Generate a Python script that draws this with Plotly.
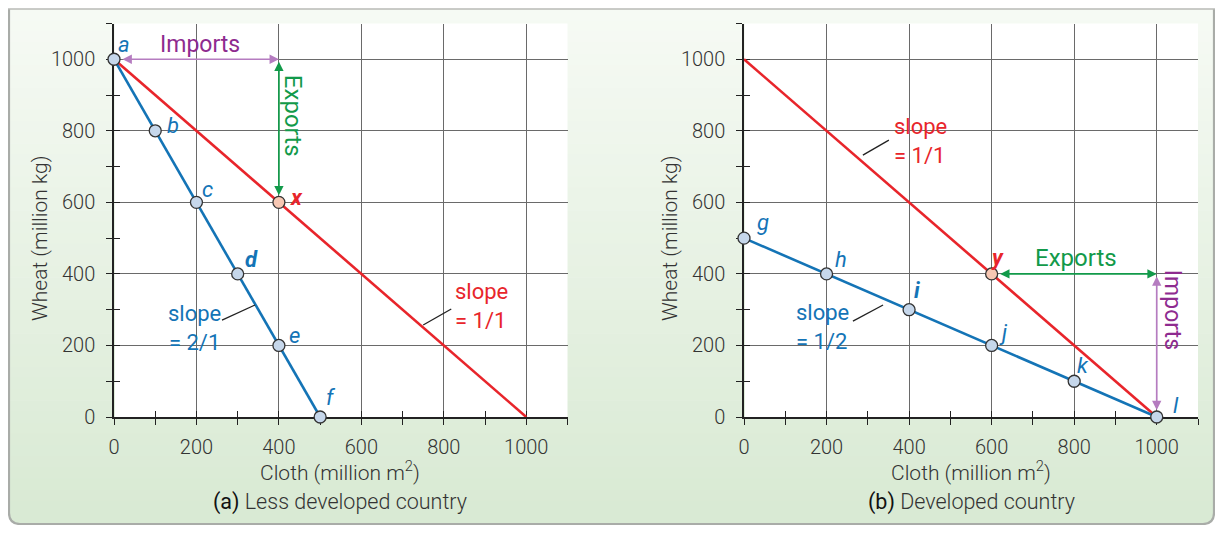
import plotly.graph_objects as go

# ---- data -------------------------------------------------------------
# (a) less developed country
cloth_a = [0, 100, 200, 300, 400, 500]
wheat_a = [1000, 800, 600, 400, 200, 0]
letters_a = ["a", "b", "c", "d", "e", "f"]
trade_cloth_a = [0, 1000]
trade_wheat_a = [1000, 0]
consume_a = (400, 600)          # point x

# (b) developed country
cloth_b = [0, 200, 400, 600, 800, 1000]
wheat_b = [500, 400, 300, 200, 100, 0]
letters_b = ["g", "h", "i", "j", "k", "l"]
trade_cloth_b = [0, 1000]
trade_wheat_b = [1000, 0]
consume_b = (600, 400)          # point y

BLUE = "#1474b6"
RED = "#e8252b"
GREEN = "#129a4a"
PURPLE_TXT = "#8e2b8f"
PURPLE_ARR = "#b57cc0"
GRID = "#6a6a6a"
TXT = "#333333"
FONT = "Roboto"

# page body has an 8px margin, so the figure is sized to fit inside the window
OX, OY = 8, 8
W, H = 1223 - 2 * OX, 533 - 2 * OY


def px(x):
    return (x - OX) / W


def py(y):
    return 1 - (y - OY) / H


fig = go.Figure()


def add_panel(xa, ya, cx, cy, tx, ty, pt):
    fig.add_trace(go.Scatter(x=tx, y=ty, mode="lines", line=dict(color=RED, width=2.6),
                             xaxis=xa, yaxis=ya, hoverinfo="skip", cliponaxis=False))
    fig.add_trace(go.Scatter(x=cx, y=cy, mode="lines", line=dict(color=BLUE, width=2.6),
                             xaxis=xa, yaxis=ya, hoverinfo="skip", cliponaxis=False))
    fig.add_trace(go.Scatter(x=cx, y=cy, mode="markers",
                             marker=dict(size=12, color="#c6d7eb", line=dict(color="#333", width=1.3)),
                             xaxis=xa, yaxis=ya, cliponaxis=False))
    fig.add_trace(go.Scatter(x=[pt[0]], y=[pt[1]], mode="markers",
                             marker=dict(size=12, color="#f7c7b3", line=dict(color="#333", width=1.3)),
                             xaxis=xa, yaxis=ya, cliponaxis=False))


add_panel("x3", "y3", cloth_a, wheat_a, trade_cloth_a, trade_wheat_a, consume_a)
add_panel("x4", "y4", cloth_b, wheat_b, trade_cloth_b, trade_wheat_b, consume_b)

dom_a = [px(114), px(567.5)]
dom_b = [px(744), px(1198)]
dom_y = [py(417), py(23.5)]

tickfont = dict(size=20, color=TXT, family=FONT, weight=300)
xax = dict(range=[0, 1100], showgrid=True, gridcolor=GRID, gridwidth=1, dtick=200, tick0=0,
           ticks="outside", ticklen=6, tickcolor="#222", showline=True, linecolor="#222",
           linewidth=1.5, tickfont=tickfont, ticklabelstandoff=5, automargin=False,
           layer="below traces",
           minor=dict(dtick=100, ticks="outside", ticklen=6, tickcolor="#222", showgrid=False),
           zeroline=False, fixedrange=True)
yax = dict(xax)
yax["ticklabelstandoff"] = 7

# second set of axes carrying the inward half of each tick
inner = dict(range=[0, 1100], showgrid=False, dtick=200, tick0=0, ticks="inside", ticklen=6,
             tickcolor="#222", showticklabels=False, showline=False, zeroline=False,
             automargin=False, layer="below traces", fixedrange=True,
             minor=dict(dtick=100, ticks="inside", ticklen=6, tickcolor="#222"))

fig.update_layout(
    xaxis=dict(xax, domain=dom_a, anchor="y"),
    yaxis=dict(yax, domain=dom_y, anchor="x"),
    xaxis2=dict(xax, domain=dom_b, anchor="y2"),
    yaxis2=dict(yax, domain=dom_y, anchor="x2"),
    xaxis3=dict(inner, overlaying="x", anchor="y3"),
    yaxis3=dict(inner, overlaying="y", anchor="x3"),
    xaxis4=dict(inner, overlaying="x2", anchor="y4"),
    yaxis4=dict(inner, overlaying="y2", anchor="x4"),
)

# ---- background: gradient panel with rounded frame ---------------------
shapes = []
top, bot, left, right = 9, 524, 9, 1214
c0 = (246, 250, 244)
c1 = (217, 234, 212)
n = 45
band = (bot - 12 - top) / n
for i in range(n):
    t = i / (n - 1)
    col = "rgb(%d,%d,%d)" % tuple(round(c0[k] + (c1[k] - c0[k]) * t) for k in range(3))
    y0 = top + i * band
    shapes.append(dict(type="rect", xref="paper", yref="paper", layer="below",
                       x0=px(left), x1=px(right), y0=py(y0), y1=py(y0 + band + 0.6),
                       fillcolor=col, line_width=0))
r = 11
path = "M {} {} L {} {} Q {} {} {} {} L {} {} Q {} {} {} {} L {} {} Z".format(
    px(left), py(bot - 12.5), px(left), py(bot - r), px(left), py(bot), px(left + r), py(bot),
    px(right - r), py(bot), px(right), py(bot), px(right), py(bot - r), px(right), py(bot - 12.5))
shapes.append(dict(type="path", xref="paper", yref="paper", layer="below", path=path,
                   fillcolor="rgb(217,234,212)", line_width=0))
# white plot areas
for x0, x1 in [(115, 567.5), (745, 1198)]:
    shapes.append(dict(type="rect", xref="paper", yref="paper", layer="below",
                       x0=px(x0), x1=px(x1), y0=py(417), y1=py(23.5),
                       fillcolor="white", line_width=0))
# frame outline
frame = "M {} {} L {} {} Q {} {} {} {} L {} {} Q {} {} {} {} L {} {}".format(
    px(left), py(top), px(left), py(bot - r), px(left), py(bot), px(left + r), py(bot),
    px(right - r), py(bot), px(right), py(bot), px(right), py(bot - r), px(right), py(top))
shapes.append(dict(type="path", xref="paper", yref="paper", layer="below", path=frame,
                   line=dict(color="#a9aca8", width=2.2)))
shapes.append(dict(type="line", xref="paper", yref="paper", layer="below",
                   x0=0, x1=1, y0=py(9), y1=py(9), line=dict(color="#b8bab6", width=1.5)))

# slope pointer lines
for xr, yr, x0, y0, x1, y1 in [("x", "y", 262, 271, 342, 313), ("x", "y", 750, 257, 818, 302),
                               ("x2", "y2", 264, 268, 337, 313), ("x2", "y2", 288, 732, 351, 774)]:
    shapes.append(dict(type="line", xref=xr, yref=yr, x0=x0, y0=y0, x1=x1, y1=y1,
                       line=dict(color="#222", width=1.3)))

fig.update_layout(shapes=shapes)

# ---- annotations -------------------------------------------------------
ann = []
offs_a = [(10, 15), (18, 5), (11, 13), (14, 14), (16, 10), (11, 20)]
offs_b = [(19, 16), (14, 14), (8, 19), (12, 13), (9, 16), (19, 12)]
bold_a = {"d"}
bold_b = {"i"}


def letter_anns(xr, yr, cx, cy, letters, offs, bold):
    for x, y, s, (dx, dy) in zip(cx, cy, letters, offs):
        t = "<i>%s</i>" % s
        if s in bold:
            t = "<b><i>%s</i></b>" % s
        ann.append(dict(xref=xr, yref=yr, x=x, y=y, text=t, showarrow=False, xshift=dx, yshift=dy,
                        font=dict(size=22, color=BLUE, family=FONT)))


letter_anns("x", "y", cloth_a, wheat_a, letters_a, offs_a, bold_a)
letter_anns("x2", "y2", cloth_b, wheat_b, letters_b, offs_b, bold_b)
ann.append(dict(xref="x", yref="y", x=consume_a[0], y=consume_a[1], text="<b><i>x</i></b>",
                showarrow=False, xshift=18, yshift=5, font=dict(size=22, color=RED, family=FONT)))
ann.append(dict(xref="x2", yref="y2", x=consume_b[0], y=consume_b[1], text="<b><i>y</i></b>",
                showarrow=False, xshift=6, yshift=16, font=dict(size=22, color=RED, family=FONT)))


def arrow(xr, yr, x, y, axv, ayv, col, st=0, sst=0):
    ann.append(dict(xref=xr, yref=yr, axref=xr, ayref=yr, x=x, y=y, ax=axv, ay=ayv, text="",
                    showarrow=True, arrowhead=2, arrowside="end+start", arrowsize=1.1,
                    arrowwidth=1.7, arrowcolor=col, standoff=st, startstandoff=sst))


arrow("x", "y", 400, 1000, 0, 1000, PURPLE_ARR, 0, 7)
arrow("x", "y", 400, 600, 400, 1000, GREEN, 7, 1)
arrow("x2", "y2", 1000, 400, 600, 400, GREEN, 0, 7)
arrow("x2", "y2", 1000, 0, 1000, 400, PURPLE_ARR, 7, 1)


def tf(c, s=23, w=400):
    return dict(size=s, color=c, family=FONT, weight=w)


ann += [
    dict(xref="x", yref="y", x=209, y=1042, text="Imports", showarrow=False, font=tf(PURPLE_TXT)),
    dict(xref="x", yref="y", x=434, y=842, text="Exports", showarrow=False, textangle=90,
         font=tf(GREEN, 24)),
    dict(xref="x2", yref="y2", x=804, y=444, text="Exports", showarrow=False, font=tf(GREEN, 24)),
    dict(xref="x2", yref="y2", x=1040, y=299, text="Imports", showarrow=False, textangle=90,
         font=tf(PURPLE_TXT)),
    dict(xref="x", yref="y", x=195, y=250, text="slope<br>= 2/1", showarrow=False, align="center",
         font=tf(BLUE, 22)),
    dict(xref="x", yref="y", x=822, y=310, text="slope<br>= 1/1", showarrow=False, align="left",
         xanchor="left", font=tf(RED, 22)),
    dict(xref="x2", yref="y2", x=121, y=252, text="slope<br>= 1/2", showarrow=False, align="left",
         xanchor="left", font=tf(BLUE, 22)),
    dict(xref="x2", yref="y2", x=359, y=771, text="slope<br>= 1/1", showarrow=False, align="left",
         xanchor="left", font=tf(RED, 22)),
]

# axis titles and panel captions
for cxp, lab in [(340, "(a)"), (971, "(b)")]:
    ann.append(dict(xref="paper", yref="paper", x=px(cxp), y=py(471), showarrow=False,
                    xanchor="center", yanchor="middle",
                    text="Cloth (million m<sup>2</sup>)", font=tf(TXT, 21, 300)))
    name = "Less developed country" if lab == "(a)" else "Developed country"
    ann.append(dict(xref="paper", yref="paper", x=px(cxp), y=py(502), showarrow=False,
                    xanchor="center", yanchor="middle",
                    text="<span style='color:#111;font-weight:400'>%s</span> %s" % (lab, name),
                    font=tf(TXT, 21.5, 300)))
for cxp in [40, 670]:
    ann.append(dict(xref="paper", yref="paper", x=px(cxp), y=py(238), showarrow=False,
                    xanchor="center", yanchor="middle",
                    text="Wheat (million kg)", textangle=-90, font=tf(TXT, 21, 300)))

fig.update_layout(
    annotations=ann,
    width=W, height=H,
    margin=dict(l=0, r=0, t=0, b=0, pad=0),
    paper_bgcolor="white", plot_bgcolor="rgba(0,0,0,0)",
    showlegend=False,
    font=dict(family=FONT, color=TXT),
)

fig.write_html("out.html", config={"displayModeBar": False})
